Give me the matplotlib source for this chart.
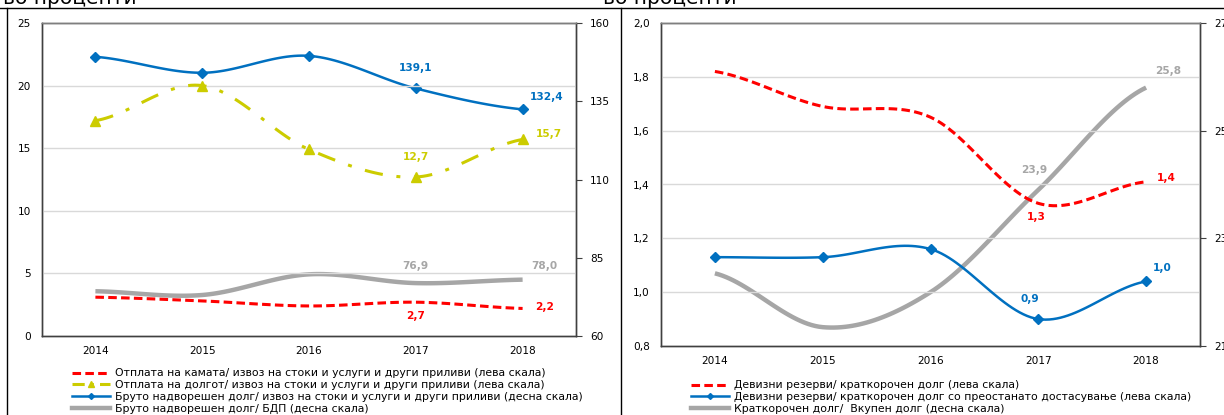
import numpy as np
import matplotlib
matplotlib.use("Agg")
import matplotlib.pyplot as plt
from matplotlib.lines import Line2D
from matplotlib.ticker import FuncFormatter

plt.rcParams['font.family'] = ['DejaVu Sans']

years = ['2014', '2015', '2016', '2017', '2018']

# left chart
kamata = [3.1, 2.8, 2.4, 2.7, 2.2]          # left scale
dolg_otplata = [17.2, 20.0, 14.9, 12.7, 15.7]  # left scale
bruto_izvoz = [149.2, 144.1, 149.5, 139.1, 132.4]  # right scale
bruto_bdp = [74.3, 73.1, 79.7, 76.9, 78.0]     # right scale
left_labels = ['Отплата на камата/ извоз на стоки и услуги и други приливи (лева скала)',
               'Отплата на долгот/ извоз на стоки и услуги и други приливи (лева скала)',
               'Бруто надворешен долг/ извоз на стоки и услуги и други приливи (десна скала)',
               'Бруто надворешен долг/ БДП (десна скала)']

# right chart
rez_kratk = [1.82, 1.69, 1.65, 1.33, 1.41]    # left scale
rez_kratk_dost = [1.13, 1.13, 1.16, 0.90, 1.04]  # left scale
kratk_vkupen = [22.35, 21.35, 22.0, 23.9, 25.8]  # right scale
right_labels = ['Девизни резерви/ краткорочен долг (лева скала)',
                'Девизни резерви/ краткорочен долг со преостанато достасување (лева скала)',
                'Краткорочен долг/  Вкупен долг (десна скала)']

RED = '#FF0000'
YEL = '#CCCC00'
BLUE = '#0070C0'
GRAY = '#A6A6A6'

W, H = 1224, 415


def smooth(y, n=30):
    # catmull-rom style curve through the points, like excel "smoothed line"
    y = np.asarray(y, float)
    x = np.arange(len(y), dtype=float)
    m = np.zeros_like(y)
    m[1:-1] = (y[2:] - y[:-2]) / 2
    m[0] = (y[1] - y[0]) * 0.5
    m[-1] = (y[-1] - y[-2]) * 0.5
    xs, ys = [], []
    for i in range(len(y) - 1):
        t = np.linspace(0, 1, n)
        h00 = 2*t**3 - 3*t**2 + 1
        h10 = t**3 - 2*t**2 + t
        h01 = -2*t**3 + 3*t**2
        h11 = t**3 - t**2
        xs.append(x[i] + t)
        ys.append(h00*y[i] + h10*m[i] + h01*y[i+1] + h11*m[i+1])
    return np.concatenate(xs), np.concatenate(ys)


def px_axes(fig, x0, y0, x1, y1):
    return fig.add_axes([x0/W, 1 - y1/H, (x1-x0)/W, (y1-y0)/H])


def style(ax, ax2):
    for a in (ax, ax2):
        for s in a.spines.values():
            s.set_color('#404040')
            s.set_linewidth(1.0)
    ax.spines['top'].set_color('#7f7f7f')
    ax.yaxis.grid(True, color='#D9D9D9', lw=1)
    ax.set_axisbelow(True)
    ax.tick_params(axis='y', length=0, pad=8, labelsize=7.6)
    ax.tick_params(axis='x', length=0, pad=7, labelsize=7.6)
    ax2.tick_params(axis='y', length=4, pad=6, labelsize=7.6, color='#404040')
    ax.set_xlim(-0.5, 4.5)
    ax.set_xticks(range(5))
    ax.set_xticklabels(years)


def lab(ax, i, v, txt, color, dx, dy):
    ax.annotate(txt, (i, v), xytext=(dx, dy), textcoords='offset pixels',
                color=color, fontsize=7.6, fontweight='bold', ha='center', va='center')


def c(v):
    return f'{v:.1f}'.replace('.', ',')


fig = plt.figure(figsize=(W/100, H/100), dpi=100)

# frame lines
fig.add_artist(Line2D([0, 1], [1 - 8/H, 1 - 8/H], color='black', lw=1))
fig.add_artist(Line2D([7/W, 7/W], [0, 1 - 8/H], color='black', lw=1))
fig.add_artist(Line2D([621/W, 621/W], [0, 1 - 8/H], color='black', lw=1))
fig.text(3/W, 1 - 4.5/H, 'во проценти', fontsize=14.5, va='baseline', ha='left')
fig.text(603/W, 1 - 4.5/H, 'во проценти', fontsize=14.5, va='baseline', ha='left')

RDASH = (2.8, 1.4)
YDASH = (6, 4.5, 1.3, 4.5)

# ---- left chart
ax = px_axes(fig, 42, 23, 576, 336)
ax2 = ax.twinx()
style(ax, ax2)
ax.set_ylim(0, 25)
ax.set_yticks([0, 5, 10, 15, 20, 25])
ax2.set_ylim(60, 160)
ax2.set_yticks([60, 85, 110, 135, 160])
ax2.set_xlim(-0.5, 4.5)

xi = np.arange(5)
sx, sy = smooth(bruto_bdp)
ax2.plot(sx, sy, color=GRAY, lw=3.2, solid_capstyle='butt')
sx, sy = smooth(bruto_izvoz)
ax2.plot(sx, sy, color=BLUE, lw=1.8)
ax2.plot(xi, bruto_izvoz, ls='none', marker='D', ms=5.5, color=BLUE)
sx, sy = smooth(kamata)
ax.plot(sx, sy, color=RED, lw=2.2, dashes=RDASH)
sx, sy = smooth(dolg_otplata)
ax.plot(sx, sy, color=YEL, lw=2.2, dashes=YDASH)
ax.plot(xi, dolg_otplata, ls='none', marker='^', ms=7, color=YEL)
ax.set_zorder(ax2.get_zorder() + 1)
ax.patch.set_visible(False)

lab(ax2, 3, bruto_izvoz[3], c(bruto_izvoz[3]), BLUE, 0, 20)
lab(ax2, 4, bruto_izvoz[4], c(bruto_izvoz[4]), BLUE, 24, 12)
lab(ax, 3, dolg_otplata[3], c(dolg_otplata[3]), YEL, 0, 20)
lab(ax, 4, dolg_otplata[4], c(dolg_otplata[4]), YEL, 26, 5)
lab(ax2, 3, bruto_bdp[3], c(bruto_bdp[3]), GRAY, 0, 17)
lab(ax2, 4, bruto_bdp[4], c(bruto_bdp[4]), GRAY, 22, 14)
lab(ax, 3, kamata[3], c(kamata[3]), RED, 0, -14)
lab(ax, 4, kamata[4], c(kamata[4]), RED, 22, 1)

h = [Line2D([], [], color=RED, lw=2.2, dashes=RDASH),
     Line2D([], [], color=YEL, lw=2.2, dashes=(4, 2, 1, 2), marker='^', ms=5),
     Line2D([], [], color=BLUE, lw=1.8, marker='D', ms=3),
     Line2D([], [], color=GRAY, lw=3.2)]
fig.legend(h, left_labels, loc='upper left', bbox_to_anchor=(67/W, 1 - 363/H),
           frameon=False, fontsize=7.8, handlelength=3.5, handletextpad=0.4,
           labelspacing=0.17, borderpad=0, numpoints=1)

# ---- right chart
bx = px_axes(fig, 661, 23, 1200, 346)
bx2 = bx.twinx()
style(bx, bx2)
bx.set_ylim(0.8, 2.0)
bx.set_yticks([0.8, 1.0, 1.2, 1.4, 1.6, 1.8, 2.0])
bx.yaxis.set_major_formatter(FuncFormatter(lambda v, p: c(v)))
bx2.set_ylim(21, 27)
bx2.set_yticks([21, 23, 25, 27])
bx2.set_xlim(-0.5, 4.5)

sx, sy = smooth(kratk_vkupen)
bx2.plot(sx, sy, color=GRAY, lw=3.2, solid_capstyle='butt')
sx, sy = smooth(rez_kratk)
bx.plot(sx, sy, color=RED, lw=2.2, dashes=RDASH)
sx, sy = smooth(rez_kratk_dost)
bx.plot(sx, sy, color=BLUE, lw=1.8)
bx.plot(xi, rez_kratk_dost, ls='none', marker='D', ms=5.5, color=BLUE)
bx.set_zorder(bx2.get_zorder() + 1)
bx.patch.set_visible(False)

lab(bx2, 4, kratk_vkupen[4], c(kratk_vkupen[4]), GRAY, 22, 17)
lab(bx2, 3, kratk_vkupen[3], c(kratk_vkupen[3]), GRAY, -4, 20)
lab(bx, 4, rez_kratk[4], c(rez_kratk[4]), RED, 20, 4)
lab(bx, 3, rez_kratk[3], c(rez_kratk[3]), RED, -2, -14)
lab(bx, 4, rez_kratk_dost[4], c(rez_kratk_dost[4]), BLUE, 16, 13)
lab(bx, 3, rez_kratk_dost[3], c(rez_kratk_dost[3]), BLUE, -8, 20)

h = [Line2D([], [], color=RED, lw=2.2, dashes=RDASH),
     Line2D([], [], color=BLUE, lw=1.8, marker='D', ms=3),
     Line2D([], [], color=GRAY, lw=3.2)]
fig.legend(h, right_labels, loc='upper left', bbox_to_anchor=(686/W, 1 - 375/H),
           frameon=False, fontsize=7.8, handlelength=3.5, handletextpad=0.4,
           labelspacing=0.17, borderpad=0, numpoints=1)

fig.savefig('out.png', dpi=100)
